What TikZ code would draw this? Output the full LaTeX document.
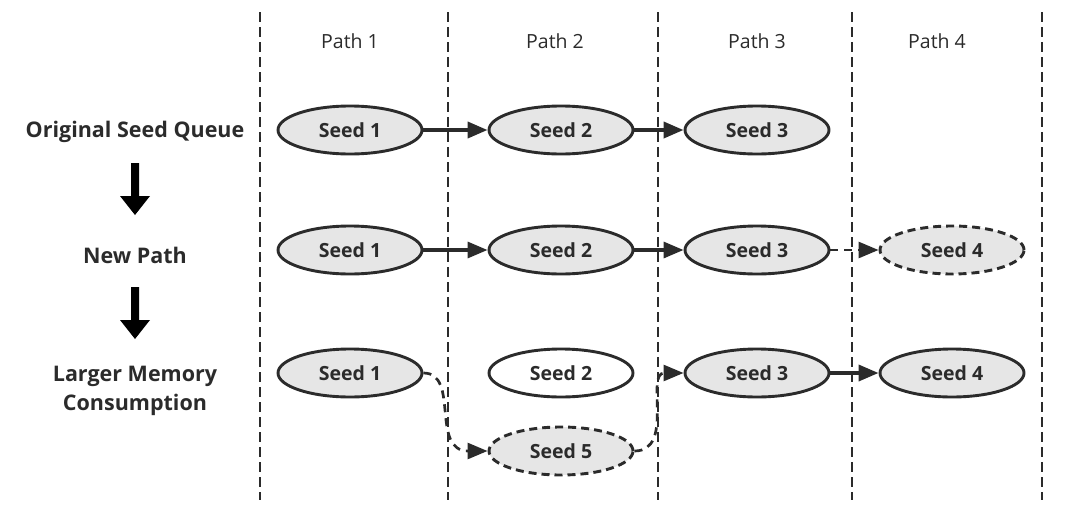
\documentclass[tikz,border=0pt]{standalone}
\usepackage{fontspec}
\setmainfont{Open Sans}
\usetikzlibrary{shapes.geometric,arrows.meta}
\definecolor{seedfill}{HTML}{E6E6E6}
\definecolor{ink}{HTML}{2B2B2B}
\begin{document}
\begin{tikzpicture}[x=1pt,y=-1pt,
  seed/.style={ellipse,draw=ink,line width=2.9pt,fill=seedfill,minimum width=144pt,minimum height=48pt,inner sep=0pt,font=\bfseries\fontsize{19.5}{22}\selectfont,text=ink},
  seeddash/.style={seed,dash pattern=on 8pt off 5pt},
  seedwhite/.style={seed,fill=white},
  link/.style={draw=ink,line width=3.2pt,-{Triangle[length=20pt,width=16pt]}},
  dlink/.style={link,line width=2.7pt,dash pattern=on 8pt off 6pt},
  divider/.style={draw=ink,line width=1.1pt,dash pattern=on 10pt off 5pt},
  pathlbl/.style={font=\fontsize{19.5}{22}\selectfont,text=ink},
  rowlbl/.style={font=\bfseries\fontsize{21.5}{29}\selectfont,text=ink,align=center},
  blockarrow/.style={fill=black}
]
\useasboundingbox (0,0) rectangle (1081,509);
% dividers
\foreach \xx/\nm in {260/d0,448/d1,658/d2,852/d3,1042/d4}{
  \coordinate (\nm t) at (\xx,12);
  \coordinate (\nm b) at (\xx,500);
  \draw[divider] (\nm t) -- (\nm b);
}
% path labels
\node[pathlbl] (p1) at (350,41) {Path 1};
\node[pathlbl] (p2) at (555,41) {Path 2};
\node[pathlbl] (p3) at (757,41) {Path 3};
\node[pathlbl] (p4) at (937,41) {Path 4};
% row labels
\node[rowlbl] (r1) at (135,132) {Original Seed Queue};
\node[rowlbl] (r2) at (135,255) {New Path};
\node[rowlbl] (r3) at (135,391) {Larger Memory\\Consumption};
% block arrows
\foreach \yy/\nm in {163/ba1,287/ba2}{
  \fill[blockarrow] (131,\yy) -- (139,\yy) -- (139,\yy+33) -- (150,\yy+33) -- (135,\yy+52) -- (120,\yy+33) -- (131,\yy+33) -- cycle;
}
% row 1
\node[seed] (a1) at (350,130) {Seed 1};
\node[seed] (a2) at (561,130) {Seed 2};
\node[seed] (a3) at (757,130) {Seed 3};
\draw[link,line width=3.8pt] (a1) -- (a2);
\draw[link,line width=3.8pt] (a2) -- (a3);
% row 2
\node[seed] (b1) at (350,250) {Seed 1};
\node[seed] (b2) at (561,250) {Seed 2};
\node[seed] (b3) at (757,250) {Seed 3};
\node[seeddash] (b4) at (952,250) {Seed 4};
\draw[link] (b1) -- (b2);
\draw[link] (b2) -- (b3);
\draw[dlink] (b3) -- (b4);
% row 3
\node[seed] (c1) at (350,373) {Seed 1};
\node[seedwhite] (c2) at (561,373) {Seed 2};
\node[seed] (c3) at (757,373) {Seed 3};
\node[seed] (c4) at (952,373) {Seed 4};
\node[seeddash] (c5) at (561,451) {Seed 5};
\draw[dlink] (c1.east) .. controls (460,373) and (430,451) .. (c5.west);
\draw[dlink] (c5.east) .. controls (675,451) and (645,373) .. (c3.west);
\draw[link,line width=3.6pt] (c3) -- (c4);
\end{tikzpicture}
\end{document}
